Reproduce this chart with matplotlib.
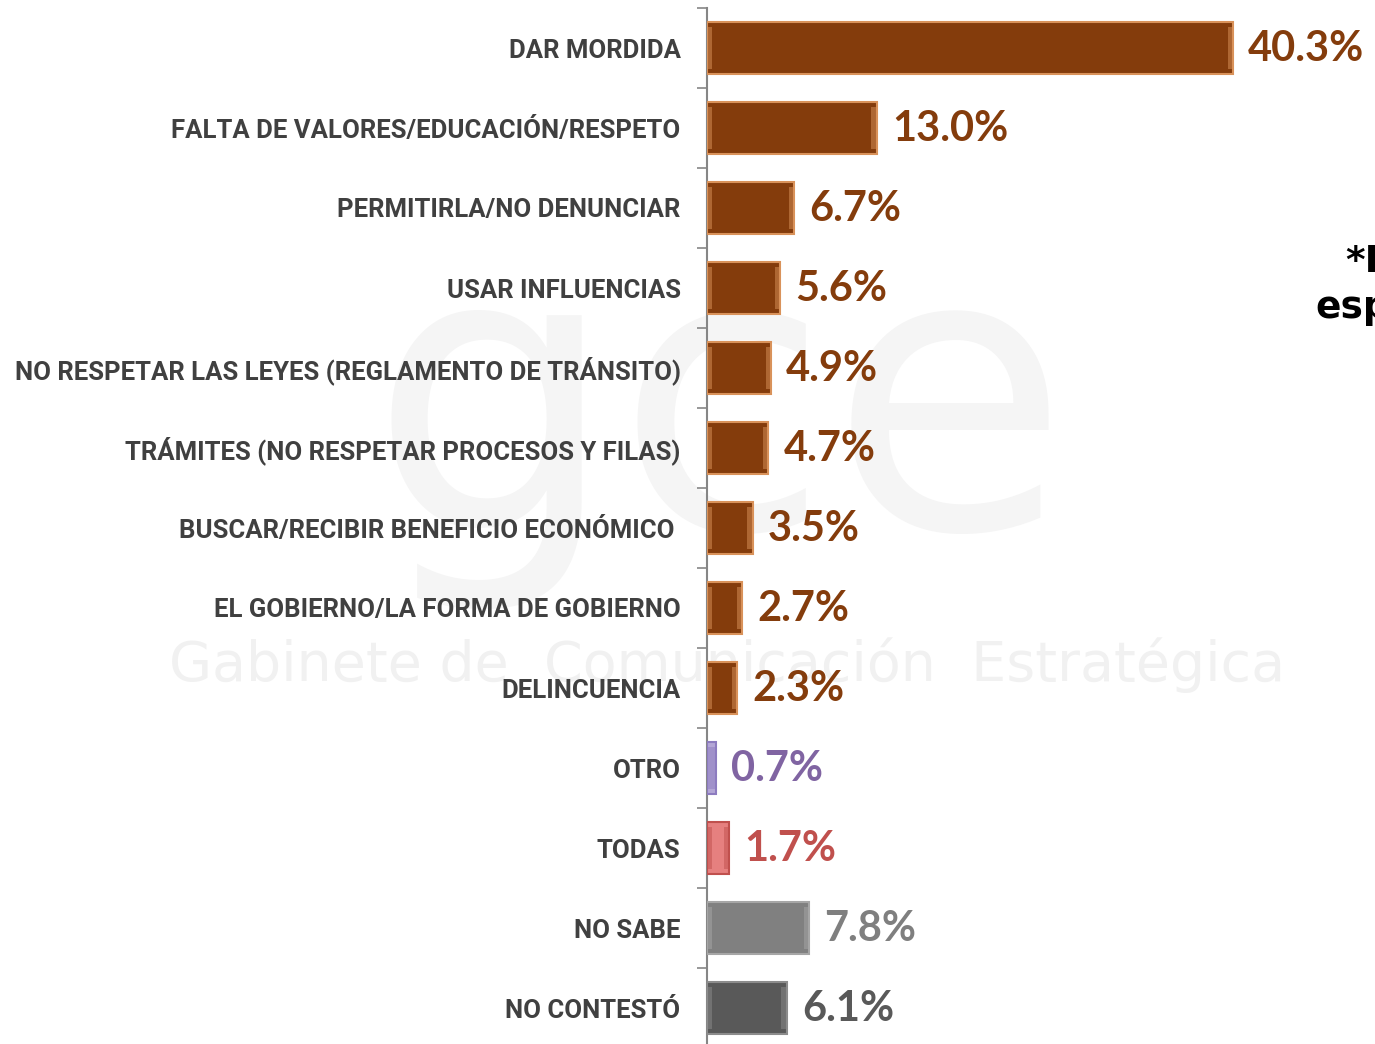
import numpy as np
import matplotlib
matplotlib.use("Agg")
import matplotlib.pyplot as plt

categories = [
    "DAR MORDIDA",
    "FALTA DE VALORES/EDUCACIÓN/RESPETO",
    "PERMITIRLA/NO DENUNCIAR",
    "USAR INFLUENCIAS",
    "NO RESPETAR LAS LEYES (REGLAMENTO DE TRÁNSITO)",
    "TRÁMITES (NO RESPETAR PROCESOS Y FILAS)",
    "BUSCAR/RECIBIR BENEFICIO ECONÓMICO ",
    "EL GOBIERNO/LA FORMA DE GOBIERNO",
    "DELINCUENCIA",
    "OTRO",
    "TODAS",
    "NO SABE",
    "NO CONTESTÓ",
]
values = [40.3, 13.0, 6.7, 5.6, 4.9, 4.7, 3.5, 2.7, 2.3, 0.7, 1.7, 7.8, 6.1]

brown = "#843c0c"
bar_colors = [brown] * 9 + ["#b4a7d6", "#e6807f", "#808080", "#595959"]
edge_colors = ["#d9925a"] * 9 + ["#8d7cc0", "#c0504d", "#a6a6a6", "#8c8c8c"]
text_colors = [brown] * 9 + ["#8064a2", "#c0504d", "#7f7f7f", "#595959"]

W, H = 1375, 1044
fig = plt.figure(figsize=(W / 100, H / 100), dpi=100)
fig.patch.set_facecolor("white")

# faint watermark behind everything
fig.text(720 / W, 1 - 420 / H, "gce", fontsize=280, color="#f5f5f5",
         ha="center", va="center", family="DejaVu Sans", zorder=0)
fig.text(727 / W, 1 - 665 / H, "Gabinete de  Comunicación  Estratégica",
         fontsize=40, color="#f1f1f1", ha="center", va="center",
         family="DejaVu Sans", zorder=0)

ax = fig.add_axes([707 / W, -4 / H, (W - 707) / W, 1040 / H])
ax.set_facecolor("none")
ax.set_zorder(2)

y = np.arange(len(categories))
bh = 0.65
ax.barh(y, values, height=bh, color=bar_colors, edgecolor=edge_colors,
        linewidth=1.5, zorder=3)

# bevel highlights at both ends of each bar
bev = 0.4
ends = [min(bev, v / 2) for v in values]
ax.barh(y, ends, height=bh * 0.8, color=edge_colors, alpha=0.5, linewidth=0, zorder=4)
ax.barh(y, ends, left=[v - e for v, e in zip(values, ends)], height=bh * 0.8,
        color=edge_colors, alpha=0.5, linewidth=0, zorder=4)

for yi, v, c in zip(y, values, text_colors):
    ax.annotate(f"{v:.1f}%", xy=(v, yi), xytext=(11, -1), textcoords="offset points",
                ha="left", va="center", fontsize=30, fontweight="bold",
                color=c, family=["Lato", "DejaVu Sans"], zorder=5)

ax.set_xlim(0, (W - 707) / 13.05)
ax.set_ylim(len(categories) - 0.5, -0.5)

ax.set_yticks(y)
ax.set_yticklabels(categories, fontsize=18.5, fontweight="bold", color="#404040",
                   family=["Roboto", "DejaVu Sans"], fontstretch="condensed")
ax.set_yticks(np.arange(len(categories) + 1) - 0.5, minor=True)
ax.tick_params(axis="y", which="major", length=0, pad=19)
ax.tick_params(axis="y", which="minor", length=7, width=1.2, color="#868686")
ax.set_xticks([])

for s in ["top", "right", "bottom"]:
    ax.spines[s].set_visible(False)
ax.spines["left"].set_color("#868686")
ax.spines["left"].set_linewidth(1.5)

fig.text(1345 / W, 1 - 272 / H, "*Respuesta", fontsize=27, fontweight="bold",
         color="black", ha="left", va="baseline", family="DejaVu Sans")
fig.text(1315 / W, 1 - 318 / H, "espontánea", fontsize=27, fontweight="bold",
         color="black", ha="left", va="baseline", family="DejaVu Sans")

fig.savefig("out.png", dpi=100)
